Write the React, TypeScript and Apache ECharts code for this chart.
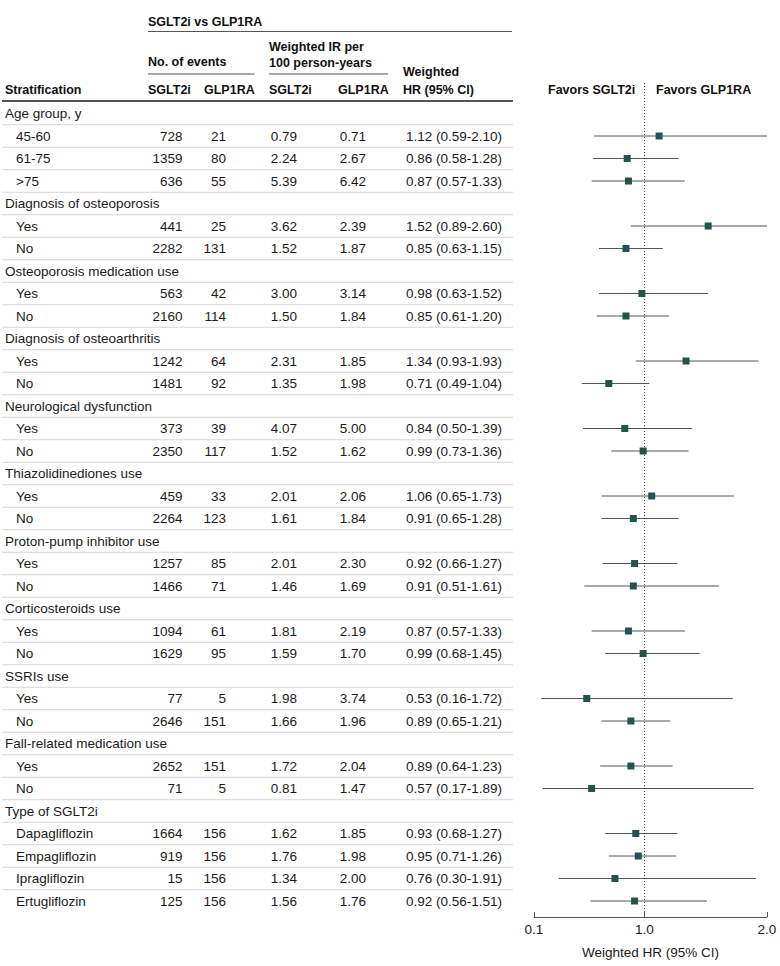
import React, { useEffect, useRef } from "react";
import * as echarts from "echarts";

// ---------- data ----------
const rowLabels: string[] = [
  "Age group, y", "45-60", "61-75", ">75",
  "Diagnosis of osteoporosis", "Yes", "No",
  "Osteoporosis medication use", "Yes", "No",
  "Diagnosis of osteoarthritis", "Yes", "No",
  "Neurological dysfunction", "Yes", "No",
  "Thiazolidinediones use", "Yes", "No",
  "Proton-pump inhibitor use", "Yes", "No",
  "Corticosteroids use", "Yes", "No",
  "SSRIs use", "Yes", "No",
  "Fall-related medication use", "Yes", "No",
  "Type of SGLT2i", "Dapagliflozin", "Empagliflozin", "Ipragliflozin", "Ertugliflozin",
];
const isGroup: boolean[] = [
  true, false, false, false,
  true, false, false,
  true, false, false,
  true, false, false,
  true, false, false,
  true, false, false,
  true, false, false,
  true, false, false,
  true, false, false,
  true, false, false,
  true, false, false, false, false,
];
const eventsSGLT2i: (number | null)[] = [
  null, 728, 1359, 636, null, 441, 2282, null, 563, 2160, null, 1242, 1481,
  null, 373, 2350, null, 459, 2264, null, 1257, 1466, null, 1094, 1629,
  null, 77, 2646, null, 2652, 71, null, 1664, 919, 15, 125,
];
const eventsGLP1RA: (number | null)[] = [
  null, 21, 80, 55, null, 25, 131, null, 42, 114, null, 64, 92,
  null, 39, 117, null, 33, 123, null, 85, 71, null, 61, 95,
  null, 5, 151, null, 151, 5, null, 156, 156, 156, 156,
];
const irSGLT2i: (number | null)[] = [
  null, 0.79, 2.24, 5.39, null, 3.62, 1.52, null, 3.0, 1.5, null, 2.31, 1.35,
  null, 4.07, 1.52, null, 2.01, 1.61, null, 2.01, 1.46, null, 1.81, 1.59,
  null, 1.98, 1.66, null, 1.72, 0.81, null, 1.62, 1.76, 1.34, 1.56,
];
const irGLP1RA: (number | null)[] = [
  null, 0.71, 2.67, 6.42, null, 2.39, 1.87, null, 3.14, 1.84, null, 1.85, 1.98,
  null, 5.0, 1.62, null, 2.06, 1.84, null, 2.3, 1.69, null, 2.19, 1.7,
  null, 3.74, 1.96, null, 2.04, 1.47, null, 1.85, 1.98, 2.0, 1.76,
];
const hr: (number | null)[] = [
  null, 1.12, 0.86, 0.87, null, 1.52, 0.85, null, 0.98, 0.85, null, 1.34, 0.71,
  null, 0.84, 0.99, null, 1.06, 0.91, null, 0.92, 0.91, null, 0.87, 0.99,
  null, 0.53, 0.89, null, 0.89, 0.57, null, 0.93, 0.95, 0.76, 0.92,
];
const hrLow: (number | null)[] = [
  null, 0.59, 0.58, 0.57, null, 0.89, 0.63, null, 0.63, 0.61, null, 0.93, 0.49,
  null, 0.5, 0.73, null, 0.65, 0.65, null, 0.66, 0.51, null, 0.57, 0.68,
  null, 0.16, 0.65, null, 0.64, 0.17, null, 0.68, 0.71, 0.3, 0.56,
];
const hrHigh: (number | null)[] = [
  null, 2.1, 1.28, 1.33, null, 2.6, 1.15, null, 1.52, 1.2, null, 1.93, 1.04,
  null, 1.39, 1.36, null, 1.73, 1.28, null, 1.27, 1.61, null, 1.33, 1.45,
  null, 1.72, 1.21, null, 1.23, 1.89, null, 1.27, 1.26, 1.91, 1.51,
];
const xTickValues: number[] = [0.1, 1.0, 2.0];
const xTickLabels: string[] = ["0.1", "1.0", "2.0"];

// ---------- layout / style ----------
const FONT = "'Liberation Sans', Arial, sans-serif";
const FS = 13.5;
const HFS = 12.5;
const TXT = "#1a1a1a";
const AX_MIN = 0.1;
const AX_MAX = 2.0;
const COL = {
  group: 5, sub: 16, evS: 182.5, evG: 226, irS: 297, irG: 366, hr: 406, lineL: 2, lineR: 513,
};

const fmt2 = (v: number) => v.toFixed(2);

export default function App() {
  const ref = useRef<HTMLDivElement>(null);

  useEffect(() => {
    document.body.style.margin = "0";
    const chart = echarts.init(ref.current!, null, { renderer: "svg" });
    const n = rowLabels.length;

    const tableData = rowLabels.map((_, i) => [1, i]);
    const ciData: number[][] = [];
    const ptData: number[][] = [];
    for (let i = 0; i < n; i++) {
      if (hr[i] != null) {
        ptData.push([hr[i] as number, i]);
        ciData.push([hrLow[i] as number, hrHigh[i] as number, i]);
      }
    }

    const txt = (x: number, y: number, text: string, align: string) => ({
      type: "text", x, y,
      style: { text, fill: TXT, font: `${FS}px ${FONT}`, align, verticalAlign: "middle" },
    });
    const header = (x: number, y: number, text: string) => ({
      type: "text", x, y,
      style: { text, fill: "#111", font: `bold ${HFS}px ${FONT}`, align: "left", verticalAlign: "middle" },
    });
    const hline = (x1: number, x2: number, y: number, w: number, c: string) => ({
      type: "line", shape: { x1, y1: y, x2, y2: y }, style: { stroke: c, lineWidth: w },
    });

    chart.setOption({
      animation: false,
      grid: { left: 534, width: 233, top: 83, height: 834, show: false },
      xAxis: {
        type: "value", position: "bottom", min: AX_MIN, max: AX_MAX,
        axisLine: { show: true, onZero: false, lineStyle: { color: "#555", width: 1 } },
        axisTick: { show: true, inside: true, length: 5, customValues: xTickValues, lineStyle: { color: "#555" } },
        axisLabel: {
          show: true, customValues: xTickValues, margin: 5,
          formatter: (v: number) => {
            const k = xTickValues.findIndex((t) => Math.abs(t - v) < 1e-6);
            return k >= 0 ? xTickLabels[k] : "";
          },
          color: TXT, fontFamily: FONT, fontSize: FS,
        },
        splitLine: { show: false },
        name: "Weighted HR (95% CI)", nameLocation: "middle", nameGap: 28,
        nameTextStyle: { color: TXT, fontFamily: FONT, fontSize: FS },
      },
      yAxis: {
        type: "value", position: "left", inverse: true, min: -1.35556, max: 35.71111,
        show: false,
        axisLine: { show: false, onZero: false },
        axisTick: { show: false },
        axisLabel: { show: false },
        splitLine: { show: false },
      },
      series: [
        {
          type: "custom", data: tableData, silent: true, clip: false,
          renderItem: (params: any, api: any) => {
            const i = params.dataIndex;
            const y = api.coord([1, i])[1];
            const children: any[] = [];
            if (i > 0) {
              const yb = api.coord([1, i - 0.5])[1];
              children.push(hline(COL.lineL, COL.lineR, yb, 1, "#d6d6d6"));
            }
            if (isGroup[i]) {
              children.push(txt(COL.group, y, rowLabels[i], "left"));
            } else {
              children.push(txt(COL.sub, y, rowLabels[i], "left"));
              children.push(txt(COL.evS, y, String(eventsSGLT2i[i]), "right"));
              children.push(txt(COL.evG, y, String(eventsGLP1RA[i]), "right"));
              children.push(txt(COL.irS, y, fmt2(irSGLT2i[i] as number), "right"));
              children.push(txt(COL.irG, y, fmt2(irGLP1RA[i] as number), "right"));
              children.push(txt(COL.hr, y,
                `${fmt2(hr[i] as number)} (${fmt2(hrLow[i] as number)}-${fmt2(hrHigh[i] as number)})`, "left"));
            }
            return { type: "group", children };
          },
        },
        {
          type: "custom", data: ciData, encode: { x: [0, 1], y: 2 }, silent: true,
          renderItem: (params: any, api: any) => {
            const lo = Math.max(api.value(0), AX_MIN);
            const hi = Math.min(api.value(1), AX_MAX);
            const row = api.value(2);
            const p1 = api.coord([lo, row]);
            const p2 = api.coord([hi, row]);
            return { type: "line", shape: { x1: p1[0], y1: p1[1], x2: p2[0], y2: p2[1] }, style: { stroke: "#555", lineWidth: 1 } };
          },
          z: 2,
        },
        {
          type: "scatter", data: ptData, symbol: "rect", symbolSize: 7,
          itemStyle: { color: "#24524f", opacity: 1 }, silent: true, z: 3,
          markLine: {
            silent: true, symbol: "none", label: { show: false },
            lineStyle: { color: "#444", type: [1, 2], width: 1 },
            data: [{ xAxis: 1 }],
          },
        },
      ],
      graphic: [
        header(148, 21.7, "SGLT2i vs GLP1RA"),
        hline(148, 512, 31.5, 1, "#555"),
        header(148, 62, "No. of events"),
        hline(148, 254.5, 74, 1, "#555"),
        header(269, 46.5, "Weighted IR per"),
        header(269, 63, "100 person-years"),
        hline(269, 388, 74, 1, "#555"),
        header(403, 72, "Weighted"),
        header(403, 90, "HR (95% CI)"),
        header(5, 90, "Stratification"),
        header(148, 90, "SGLT2i"),
        header(204, 90, "GLP1RA"),
        header(269, 90, "SGLT2i"),
        header(338, 90, "GLP1RA"),
        hline(2, 513, 101, 2, "#555"),
        header(548, 90, "Favors SGLT2i"),
        header(656, 90, "Favors GLP1RA"),
      ],
    });

    return () => chart.dispose();
  }, []);

  return <div ref={ref} style={{ width: 780, height: 966, overflow: "hidden" }} />;
}
